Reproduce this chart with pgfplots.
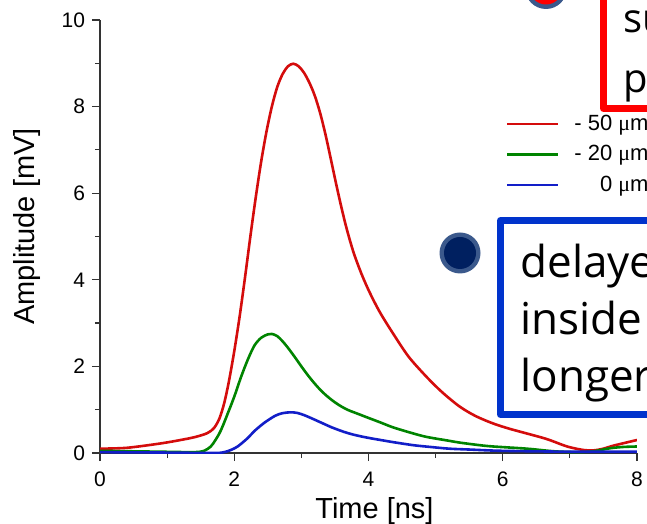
\documentclass[border=0pt]{standalone}
\usepackage{pgfplots}
\pgfplotsset{compat=1.18}
\usepackage{fontspec}
\setmainfont{Liberation Sans}
\newfontfamily\slidefont{Open Sans}
\newfontfamily\mufont{Liberation Serif}

\definecolor{pulsered}{RGB}{212,12,12}
\definecolor{pulsegreen}{RGB}{0,132,0}
\definecolor{pulseblue}{RGB}{18,30,200}
\definecolor{boxred}{RGB}{255,0,0}
\definecolor{boxblue}{RGB}{0,51,204}
\definecolor{bulletring}{RGB}{59,89,140}
\definecolor{bulletnavy}{RGB}{0,32,96}

% pulse shapes at three depths
\pgfplotstableread{
t v
0.00 0.10
0.40 0.12
0.90 0.22
1.20 0.30
1.42 0.37
1.60 0.46
1.70 0.58
1.78 0.80
1.85 1.15
1.92 1.65
2.00 2.35
2.08 3.15
2.16 4.05
2.24 5.00
2.32 5.90
2.40 6.72
2.48 7.42
2.56 8.00
2.64 8.45
2.72 8.75
2.80 8.93
2.88 8.99
2.96 8.93
3.04 8.78
3.12 8.55
3.20 8.25
3.28 7.85
3.36 7.35
3.44 6.78
3.52 6.20
3.60 5.65
3.68 5.15
3.78 4.62
3.90 4.12
4.02 3.70
4.17 3.25
4.37 2.75
4.60 2.22
4.87 1.75
5.10 1.40
5.36 1.07
5.60 0.85
5.86 0.68
6.10 0.56
6.36 0.45
6.66 0.32
6.96 0.15
7.20 0.07
7.35 0.06
7.50 0.10
7.65 0.17
8.00 0.30
}\redpulse

\pgfplotstableread{
t v
0.00 0.05
0.90 0.03
1.40 0.02
1.55 0.05
1.65 0.15
1.72 0.30
1.80 0.52
1.90 0.90
2.00 1.30
2.10 1.75
2.20 2.15
2.30 2.48
2.40 2.66
2.50 2.74
2.56 2.75
2.64 2.70
2.72 2.58
2.80 2.43
2.90 2.22
3.00 2.00
3.10 1.79
3.20 1.60
3.30 1.43
3.40 1.29
3.50 1.17
3.60 1.07
3.70 0.99
3.85 0.90
4.00 0.81
4.17 0.71
4.37 0.59
4.67 0.45
4.87 0.37
5.17 0.29
5.36 0.24
5.66 0.18
5.86 0.15
6.36 0.10
6.76 0.04
7.10 0.02
7.35 0.04
7.60 0.11
7.80 0.14
8.00 0.15
}\greenpulse

\pgfplotstableread{
t v
0.00 0.02
1.00 0.01
1.70 0.00
1.85 0.02
1.95 0.07
2.05 0.15
2.19 0.33
2.31 0.52
2.45 0.70
2.61 0.86
2.72 0.92
2.84 0.94
2.94 0.925
3.04 0.875
3.14 0.81
3.24 0.74
3.34 0.67
3.44 0.60
3.54 0.54
3.64 0.485
3.76 0.43
3.90 0.38
4.05 0.335
4.20 0.295
4.37 0.25
4.67 0.18
4.92 0.14
5.20 0.10
5.50 0.08
6.00 0.05
7.00 0.03
8.00 0.03
}\bluepulse

\begin{document}
\begin{tikzpicture}
\path[use as bounding box] (0,0) rectangle (323.5pt,262pt);
\clip (0,0) rectangle (323.5pt,262pt);

\begin{axis}[
  at={(50pt,35.5pt)}, anchor=south west,
  scale only axis, width=268.5pt, height=216.5pt,
  xmin=0, xmax=8, ymin=0, ymax=10,
  axis x line=bottom, axis y line=left,
  axis line style={-, black!80, line width=0.6pt},
  xtick={0,2,...,8}, ytick={0,2,...,10},
  minor xtick={1,3,5,7}, minor ytick={1,3,...,9},
  tick align=outside, major tick length=4pt, minor tick length=2.5pt,
  every tick/.style={black!80, line width=0.6pt},
  /pgf/number format/assume math mode=true,
  ticklabel style={font=\fontsize{10.5}{12}\selectfont},
  xticklabel style={yshift=-2pt},
  xlabel={Time [ns]}, ylabel={Amplitude [mV]},
  label style={font=\fontsize{14.5}{17}\selectfont},
  xlabel style={xshift=3pt, yshift=1.5pt},
  ylabel style={xshift=5pt, yshift=3.5pt},
  legend style={at={(axis cs:5.95,8.0)}, anchor=north west,
    draw=none, fill=none, font=\fontsize{11}{13}\selectfont,
    row sep=2pt, legend cell align=left},
  legend image code/.code={\draw[#1] (0pt,0pt) -- (25.5pt,0pt); \path (31pt,0pt);},
]
\addplot[pulsered, line width=1.3pt, smooth] table[x=t, y=v] {\redpulse};
\addlegendentry{- 50 {\mufont μ}m}
\addplot[pulsegreen, line width=1.3pt, smooth] table[x=t, y=v] {\greenpulse};
\addlegendentry{- 20 {\mufont μ}m}
\addplot[pulseblue, line width=1.3pt, smooth] table[x=t, y=v] {\bluepulse};
\addlegendentry{\hphantom{- 5}0 {\mufont μ}m}
\end{axis}

% slide annotations, in pixel units from the top-left corner
\begin{scope}[x=0.5pt, y=-0.5pt, yshift=262pt]
  \draw[boxred, line width=3.5pt, line join=round] (603.5,-30) rectangle (720,108.5);
  \draw[boxblue, line width=3.5pt, line join=round] (500.5,220.5) rectangle (720,414.5);
  \fill[bulletring] (546,-12) circle (21);
  \fill[boxred] (546,-12) circle (16.5);
  \fill[bulletring] (460,253) circle (20.5);
  \fill[bulletnavy] (460,253) circle (16);
  \begin{scope}[every node/.style={anchor=base west, inner sep=0pt,
      font=\slidefont\fontsize{22}{26}\selectfont}]
    \node[font=\slidefont\fontsize{20}{24}\selectfont] at (623,33) {su};
    \node[font=\slidefont\fontsize{20}{24}\selectfont] at (623,93) {p};
    \node at (520,278) {delayed};
    \node at (520,335) {inside};
    \node at (520,392) {longer};
  \end{scope}
\end{scope}
\end{tikzpicture}
\end{document}
